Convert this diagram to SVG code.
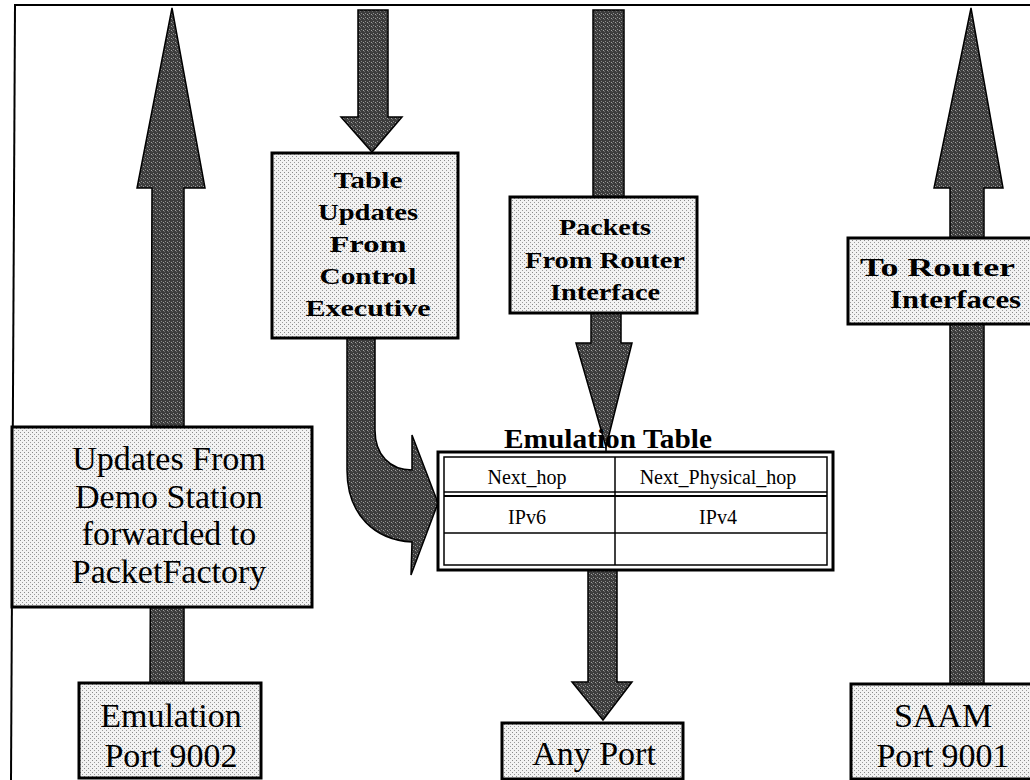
<svg xmlns="http://www.w3.org/2000/svg" width="1030" height="780" viewBox="0 0 1030 780">
<defs>
<pattern id="dots" width="4" height="4" patternUnits="userSpaceOnUse"><rect width="4" height="4" fill="#f2f2f2"/><rect x="0" y="0" width="1" height="1" fill="#8a8a8a"/><rect x="2" y="2" width="1" height="1" fill="#9a9a9a"/></pattern>
<pattern id="dark" width="4" height="4" patternUnits="userSpaceOnUse"><rect width="4" height="4" fill="#3c3c3c"/><rect x="1" y="1" width="1" height="1" fill="#8c8c8c"/><rect x="3" y="2" width="1" height="1" fill="#a0a0a0"/><rect x="0" y="3" width="1" height="1" fill="#6a6a6a"/></pattern>
</defs>
<style>
.box{fill:url(#dots);stroke:#000;stroke-width:3}
.arrow{fill:url(#dark);stroke:#000;stroke-width:1.5;stroke-linejoin:miter}
.reg{font-family:"Liberation Serif","Times New Roman",serif;font-size:34px;fill:#000;text-anchor:middle}
.bold{font-family:"Liberation Serif","Times New Roman",serif;font-size:24px;font-weight:bold;fill:#000;text-anchor:middle}
.cell{font-family:"Liberation Serif","Times New Roman",serif;font-size:20px;fill:#000;text-anchor:middle}
.frame{stroke:#000;stroke-width:2;fill:none}
</style>
<rect width="1030" height="780" fill="#fff"/>
<g id="frame">
<line class="frame" x1="14" y1="5" x2="1030" y2="5"/>
<line class="frame" x1="15" y1="5" x2="11" y2="780"/>
</g>
<g id="connectors">
<polygon class="arrow" points="150,683 184,683 184,188 205,188 172,8 137,188 152,188"/>
<polygon class="arrow" points="358,10 388,10 388,117 402,117 372,152 341,117 358,117"/>
<rect class="arrow" x="593" y="10" width="31" height="188"/>
<polygon class="arrow" points="591,313 621,313 621,343 632,343 606,447 576,343 591,343"/>
<line x1="606" y1="447" x2="606" y2="453" stroke="#000" stroke-width="1.5"/>
<polygon class="arrow" points="950,684 984,684 984,188 1003,188 971,8 934,188 950,188"/>
<path class="arrow" d="M347,338 L375,338 L375,430 C375,455 390,470 412,470 L412,435 L438,503 L411,575 L412,542 C375,540 347,515 347,470 Z"/>
<polygon class="arrow" points="588,570 617,570 617,682 632,682 603,720 572,682 588,682"/>
</g>
<g id="updates-demo">
<rect class="box" x="12" y="427" width="300" height="180"/>
<text class="reg" x="169" y="470">Updates From</text>
<text class="reg" x="169" y="508">Demo Station</text>
<text class="reg" x="169" y="545">forwarded to</text>
<text class="reg" x="169" y="583">PacketFactory</text>
</g>
<g id="emulation-port">
<rect class="box" x="79" y="683" width="182" height="95"/>
<text class="reg" x="171" y="727">Emulation</text>
<text class="reg" x="171" y="767">Port 9002</text>
</g>
<g id="table-updates">
<rect class="box" x="272" y="153" width="186" height="185"/>
<text class="bold" x="368" y="188" textLength="69" lengthAdjust="spacingAndGlyphs">Table</text>
<text class="bold" x="368" y="220" textLength="100" lengthAdjust="spacingAndGlyphs">Updates</text>
<text class="bold" x="368" y="252" textLength="77" lengthAdjust="spacingAndGlyphs">From</text>
<text class="bold" x="368" y="284" textLength="97" lengthAdjust="spacingAndGlyphs">Control</text>
<text class="bold" x="368" y="316" textLength="125" lengthAdjust="spacingAndGlyphs">Executive</text>
</g>
<g id="packets">
<rect class="box" x="510" y="197" width="187" height="116"/>
<text class="bold" x="605" y="235" textLength="92" lengthAdjust="spacingAndGlyphs">Packets</text>
<text class="bold" x="605" y="268" textLength="160" lengthAdjust="spacingAndGlyphs">From Router</text>
<text class="bold" x="605" y="300" textLength="110" lengthAdjust="spacingAndGlyphs">Interface</text>
</g>
<g id="to-router">
<rect class="box" x="848" y="238" width="186" height="86"/>
<text class="bold" x="860" y="276" style="font-size:26px;text-anchor:start" textLength="155" lengthAdjust="spacingAndGlyphs">To Router</text>
<text class="bold" x="890" y="308" style="font-size:26px;text-anchor:start" textLength="131" lengthAdjust="spacingAndGlyphs">Interfaces</text>
</g>
<g id="emulation-table">
<rect x="438" y="452" width="395" height="118" fill="#fff" stroke="#000" stroke-width="3"/>
<rect x="444" y="457" width="383" height="108" fill="none" stroke="#000" stroke-width="1.5"/>
<line x1="444" y1="492" x2="827" y2="492" stroke="#000" stroke-width="1.5"/>
<line x1="444" y1="496" x2="827" y2="496" stroke="#000" stroke-width="2"/>
<line x1="444" y1="533" x2="827" y2="533" stroke="#000" stroke-width="1.5"/>
<line x1="615" y1="457" x2="615" y2="565" stroke="#000" stroke-width="1.5"/>
<text class="cell" x="527" y="484">Next_hop</text>
<text class="cell" x="718" y="484">Next_Physical_hop</text>
<text class="cell" x="527" y="524">IPv6</text>
<text class="cell" x="718" y="524">IPv4</text>
<text x="608" y="448" style="font-family:'Liberation Serif','Times New Roman',serif;font-size:28px;font-weight:bold;text-anchor:middle" textLength="208" lengthAdjust="spacingAndGlyphs">Emulation Table</text>
</g>
<g id="any-port">
<rect class="box" x="502" y="723" width="181" height="56"/>
<text class="reg" x="594" y="765">Any Port</text>
</g>
<g id="saam-port">
<rect class="box" x="851" y="684" width="183" height="95"/>
<text class="reg" x="943" y="727">SAAM</text>
<text class="reg" x="943" y="767">Port 9001</text>
</g>
</svg>
